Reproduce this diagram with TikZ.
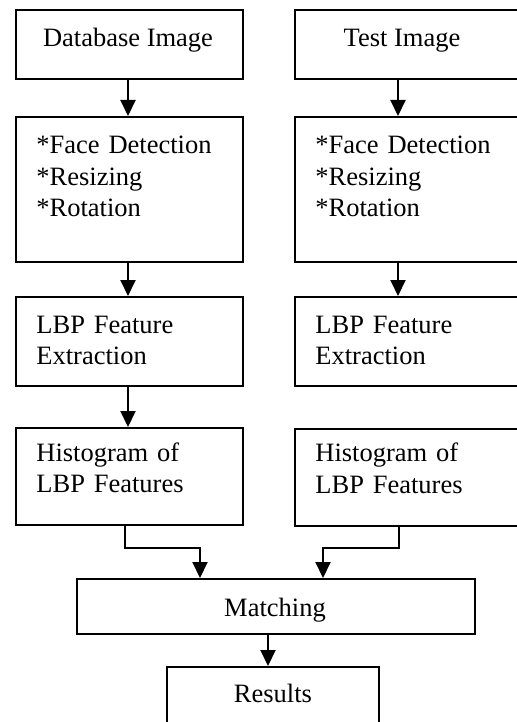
\documentclass[tikz,border=0pt]{standalone}
\usepackage{fontspec}
\setmainfont{Liberation Serif}
\usepackage{tikz}
\usetikzlibrary{
	arrows.meta,
	positioning
}

\begin{document}
\begin{tikzpicture}[x=0.5pt, y=-0.5pt,
		box/.style={draw, line width=1pt, inner sep=0pt, minimum width=113.5pt},
		txt/.style={inner sep=0pt, font=\fontsize{13.25pt}{15.75pt}\selectfont},
		lines/.style={txt, anchor=base west, text width=105pt, align=left},
		arr/.style={line width=1pt, -{Triangle[length=8pt, width=7.5pt]}}]
			\useasboundingbox (0,0) rectangle (517,722);
			\node[box, minimum height=34.5pt] (dbimg) at (129.5,44.5) {};
			\node[box, minimum height=34.5pt] (testimg) at (408.5,44.5) {};
			\node[box, minimum height=72.5pt] (dbpre) at (129.5,189.5) {};
			\node[box, minimum height=72.5pt] (testpre) at (408.5,189.5) {};
			\node[box, minimum height=44.5pt] (dblbp) at (129.5,341.5) {};
			\node[box, minimum height=44.5pt] (testlbp) at (408.5,341.5) {};
			\node[box, minimum height=48.5pt] (dbhist) at (129.5,476.5) {};
			\node[box, minimum height=48.5pt] (testhist) at (408.5,477) {};
			\node[box, minimum width=199pt, minimum height=27.5pt] (match) at (276,606.5) {};
			\node[box, minimum width=106pt, minimum height=40pt] (result) at (273,707) {};
			\node[txt, anchor=base] (dbimgtxt) at ([shift={(-1.5,38)}]dbimg.north) {Database Image};
			\node[txt, anchor=base] (testimgtxt) at ([shift={(-6.5,38)}]testimg.north) {Test Image};
			\node[lines] (dbpretxt) at ([shift={(21,38)}]dbpre.north west) {*Face Detection\\{*}Resizing\\{*}Rotation};
			\node[lines] (testpretxt) at ([shift={(21,38)}]testpre.north west) {*Face Detection\\{*}Resizing\\{*}Rotation};
			\node[lines] (dblbptxt) at ([shift={(21,37)}]dblbp.north west) {LBP Feature\\Extraction};
			\node[lines] (testlbptxt) at ([shift={(21,37)}]testlbp.north west) {LBP Feature\\Extraction};
			\node[lines] (dbhisttxt) at ([shift={(21,34)}]dbhist.north west) {Histogram of\\LBP Features};
			\node[lines] (testhisttxt) at ([shift={(21,34)}]testhist.north west) {Histogram of\\LBP Features};
			\node[txt, anchor=base] (matchtxt) at ([shift={(-1,38)}]match.north) {Matching};
			\node[txt, anchor=base] (resulttxt) at ([shift={(0,36)}]result.north) {Results};
			\draw[arr] ([xshift=-0.75pt]dbimg.south) -- ([xshift=-0.75pt]dbpre.north);
			\draw[arr] ([xshift=-5.25pt]testimg.south) -- ([xshift=-5.25pt]testpre.north);
			\draw[arr] ([xshift=-0.75pt]dbpre.south) -- ([xshift=-0.75pt]dblbp.north);
			\draw[arr] ([xshift=-5.25pt]testpre.south) -- ([xshift=-5.25pt]testlbp.north);
			\draw[arr] ([xshift=-0.75pt]dblbp.south) -- ([xshift=-0.75pt]dbhist.north);
			\draw[arr] ([xshift=-2.25pt]dbhist.south) -- ++(0,22) -| ([xshift=-38pt]match.north);
			\draw[arr] ([xshift=-4.75pt]testhist.south) -- ++(0,21) -| ([xshift=23.5pt]match.north);
			\draw[arr] ([xshift=-4pt]match.south) -- ([xshift=-4pt]match.south |- result.north);
		\end{tikzpicture}
\end{document}
